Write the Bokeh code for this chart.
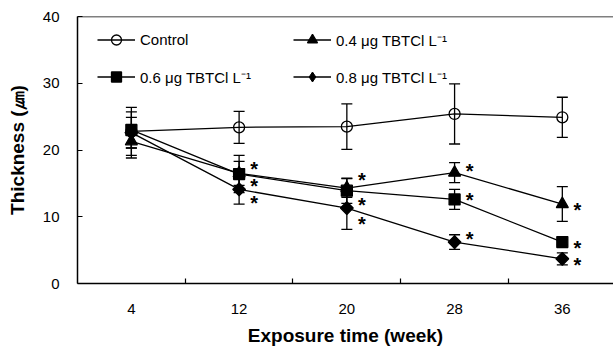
import math
from bokeh.plotting import figure
from bokeh.models import (ColumnDataSource, Whisker, TeeHead, Legend, LegendItem,
                          FixedTicker, Span, Range1d)
from bokeh.core.properties import value
from bokeh.embed import file_html
from bokeh.resources import INLINE

# ---- data ----
weeks = [4, 12, 20, 28, 36]
control = [22.8, 23.4, 23.5, 25.4, 24.9]
control_err = [3.6, 2.4, 3.4, 4.5, 3.0]
tbt04 = [21.3, 16.5, 14.3, 16.6, 11.9]
tbt04_err = [2.5, 1.8, 1.4, 1.5, 2.6]
tbt06 = [23.0, 16.4, 13.9, 12.6, 6.2]
tbt06_err = [2.7, 2.8, 1.9, 1.5, 0.4]
tbt08 = [22.6, 14.1, 11.3, 6.2, 3.7]
tbt08_err = [2.3, 2.2, 3.2, 1.1, 0.9]
sig04 = [False, True, True, True, True]
sig06 = [False, True, True, True, True]
sig08 = [False, True, True, True, True]
labels = ["Control", "0.4 \u03bcg TBTCl L\u207b\u00b9", "0.6 \u03bcg TBTCl L\u207b\u00b9", "0.8 \u03bcg TBTCl L\u207b\u00b9"]

# ---- style ----
FONT = "Liberation Sans"
star_dy04 = [0, -8, -12, -6, 2]
star_dy06 = [0, 8, 10, -3, 2]
star_dy08 = [0, 10, 12, -7, 2]
STAR_BASE = 4

p = figure(width=613, height=348, output_backend="svg", toolbar_location=None,
           x_range=Range1d(0, 39.8), y_range=Range1d(0, 40),
           min_border_left=77, min_border_right=0, min_border_top=16, min_border_bottom=63)
p.outline_line_color = None
p.grid.visible = False

# axes
p.yaxis.ticker = FixedTicker(ticks=[0, 10, 20, 30, 40])
p.yaxis.major_tick_in = 5
p.yaxis.major_tick_out = 0
p.yaxis.major_label_standoff = 18
p.yaxis.axis_label = "Thickness (\u339b)"
p.yaxis.axis_label_standoff = 12

p.xaxis.ticker = FixedTicker(ticks=weeks, minor_ticks=[8, 16, 24, 32])
p.xaxis.major_tick_in = 0
p.xaxis.major_tick_out = 0
p.xaxis.minor_tick_in = 5
p.xaxis.minor_tick_out = 0
p.xaxis.major_label_standoff = 20
p.xaxis.axis_label = "Exposure time (week)"
p.xaxis.axis_label_standoff = 8

for ax in (p.xaxis[0], p.yaxis[0]):
    ax.axis_line_width = 1.5
    ax.axis_line_color = "black"
    ax.major_tick_line_width = 1.2
    ax.minor_tick_line_width = 1.2
    ax.major_tick_line_color = "black"
    ax.minor_tick_line_color = "black" if ax is p.xaxis[0] else None
    ax.major_label_text_font = FONT
    ax.major_label_text_font_size = "15px"
    ax.major_label_text_color = "black"
    ax.axis_label_text_font = FONT
    ax.axis_label_text_font_size = "19px"
    ax.axis_label_text_font_style = "bold"
    ax.axis_label_text_color = "black"

p.add_layout(Span(location=40, dimension="width", line_color="black", line_width=1.5))

series = [
    (control, control_err, "circle", 11, 0.0, 0, None, None),
    (tbt04, tbt04_err, "triangle", 12, 1.0, 0, sig04, star_dy04),
    (tbt06, tbt06_err, "square", 11, 1.0, 0, sig06, star_dy06),
    (tbt08, tbt08_err, "square", 9, 1.0, math.pi / 4, sig08, star_dy08),
]

line_r = []
scat_r = []
srcs = []
for vals, errs, marker, size, fa, ang, sig, sdy in series:
    src = ColumnDataSource(dict(
        x=weeks, y=vals,
        upper=[v + e for v, e in zip(vals, errs)],
        lower=[v - e for v, e in zip(vals, errs)],
    ))
    srcs.append(src)
    w = Whisker(source=src, base="x", upper="upper", lower="lower",
                line_color="black", line_width=1.3, level="underlay",
                upper_head=TeeHead(size=11, line_color="black", line_width=1.3),
                lower_head=TeeHead(size=11, line_color="black", line_width=1.3))
    p.add_layout(w)
    lr = p.line("x", "y", source=src, line_color="black", line_width=1.3)
    sr = p.scatter("x", "y", source=src, marker=marker, size=size, angle=ang,
                   line_color="black", line_width=1.3, fill_color="black", fill_alpha=fa)
    line_r.append(lr)
    scat_r.append(sr)
    if sig is not None:
        ssrc = ColumnDataSource(dict(
            x=weeks, y=vals,
            t=["*" if s else "" for s in sig],
            dy=[d + STAR_BASE for d in sdy],
        ))
        p.text("x", "y", text="t", source=ssrc, x_offset=15, y_offset="dy",
               text_font=value(FONT), text_font_size="20px", text_font_style="bold",
               text_align="center", text_baseline="alphabetic", text_color="black")

# diamond marker drawn inside the rotated squares; it supplies the legend key
# (legend keys ignore marker angle)
diamond_key = p.scatter("x", "y", source=srcs[3], marker="diamond", size=11,
                        line_color="black", fill_color="black")
legend_marks = [scat_r[0], scat_r[1], scat_r[2], diamond_key]

def make_legend(idx, loc):
    items = [LegendItem(label=labels[i], renderers=[line_r[i], legend_marks[i]]) for i in idx]
    leg = Legend(items=items, location=loc, padding=0, margin=0, spacing=12,
                 glyph_width=38, glyph_height=25, label_height=25, label_standoff=5,
                 border_line_color=None, background_fill_alpha=0,
                 label_text_font=FONT, label_text_font_size="15px",
                 label_text_color="black")
    return leg

p.add_layout(make_legend([0, 2], (20, 194)))
p.add_layout(make_legend([1, 3], (216, 194)))

open("out.html", "w").write(file_html(p, INLINE))
